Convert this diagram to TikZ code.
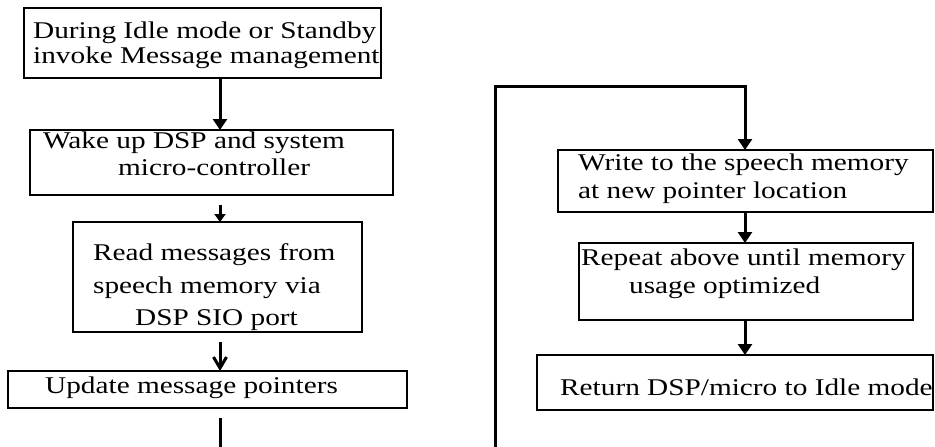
\documentclass[tikz,border=0pt]{standalone}
\usepackage{fontspec}
\setmainfont{Liberation Serif}[FakeStretch=1.22]
\usetikzlibrary{arrows.meta}
\begin{document}
\begin{tikzpicture}[x=1pt,y=-1pt,
  box/.style={draw,line width=2.6pt,rectangle,inner sep=0pt,outer sep=0pt},
  txt/.style={anchor=base west,inner sep=0pt,font=\fontsize{24}{28}\selectfont},
  conn/.style={line width=3pt},
  arrf/.style={conn,-{Triangle[width=14pt,length=11pt]}},
  arrs/.style={conn,-{Triangle[width=11pt,length=8pt]}},
  arrv/.style={conn,-{Straight Barb[width=13pt,length=11pt,line width=3pt]}}]
\useasboundingbox (0,0) rectangle (935,447);
\fill[white] (0,0) rectangle (935,447);
% boxes
\node[box,minimum width=357pt,minimum height=70pt] (b1) at (202.5,43) {};
\node[box,minimum width=363pt,minimum height=65pt] (b2) at (211.5,162.5) {};
\node[box,minimum width=289pt,minimum height=110pt] (b3) at (217.5,277) {};
\node[box,minimum width=399pt,minimum height=37pt] (b4) at (207.5,389.5) {};
\node[box,minimum width=375pt,minimum height=62pt] (b5) at (745.5,181) {};
\node[box,minimum width=334pt,minimum height=77pt] (b6) at (746,281.5) {};
\node[box,minimum width=396pt,minimum height=55pt] (b7) at (735,382.5) {};
% texts
\node[txt] (t1a) at (33,38) {During Idle mode or Standby};
\node[txt] (t1b) at (33,63) {invoke Message management};
\node[txt] (t2a) at (43,148) {Wake up DSP and system};
\node[txt] (t2b) at (118,175) {micro-controller};
\node[txt] (t3a) at (93,260) {Read messages from};
\node[txt] (t3b) at (93,293) {speech memory via};
\node[txt] (t3c) at (135,325) {DSP SIO port};
\node[txt] (t4) at (45,393) {Update message pointers};
\node[txt] (t5a) at (578,170) {Write to the speech memory};
\node[txt] (t5b) at (578,198) {at new pointer location};
\node[txt] (t6a) at (581,265) {Repeat above until memory};
\node[txt] (t6b) at (629,293) {usage optimized};
\node[txt] (t7) at (560,395) {Return DSP/micro to Idle mode};
% connector reference coordinates
\coordinate (cl) at (220,0);
\coordinate (cr) at (745,0);
\coordinate (lbot) at (220,447);
\coordinate (rbot) at (495,447);
\coordinate (rtopl) at (495,86);
\coordinate (rtopr) at (745,86);
% left column
\draw[arrf] (b1.south -| cl) -- (b2.north -| cl);
\draw[arrs,shorten <=10pt] (b2.south -| cl) -- (b3.north -| cl);
\draw[arrv,shorten <=10pt] (b3.south -| cl) -- (b4.north -| cl);
\draw[conn,shorten <=10pt] (b4.south -| cl) -- (lbot);
% right column
\draw[arrf] (rbot) -- (rtopl) -- (rtopr) -- (b5.north -| cr);
\draw[arrf] (b5.south -| cr) -- (b6.north -| cr);
\draw[arrf] (b6.south -| cr) -- (b7.north -| cr);
\end{tikzpicture}
\end{document}
